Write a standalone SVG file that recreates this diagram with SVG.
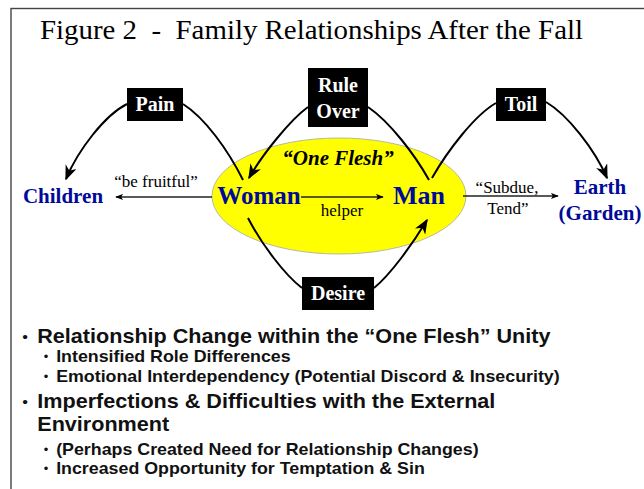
<svg xmlns="http://www.w3.org/2000/svg" width="644" height="489" viewBox="0 0 644 489">
  <style>
    .title { font-family: "Liberation Serif", "Times New Roman", serif; font-size: 27px; fill: #000; white-space: pre; }
    .lbl { font-family: "Liberation Serif", "Times New Roman", serif; font-size: 17px; fill: #000; text-anchor: middle; }
    .ent { font-family: "Liberation Serif", "Times New Roman", serif; font-weight: bold; fill: #000a99; text-anchor: middle; }
    .box { fill: #000; }
    .boxt { font-family: "Liberation Serif", "Times New Roman", serif; font-weight: bold; font-size: 20px; fill: #fff; text-anchor: middle; }
    .conn { fill: none; stroke: #000; stroke-width: 2; }
    .thin { fill: none; stroke: #222; stroke-width: 1.3; }
    .b1 { font-family: "Liberation Sans", Arial, sans-serif; font-weight: bold; font-size: 20px; fill: #111; }
    .b2 { font-family: "Liberation Sans", Arial, sans-serif; font-weight: bold; font-size: 16.5px; fill: #111; }
    .d1 { font-family: "Liberation Sans", Arial, sans-serif; font-size: 15px; fill: #111; }
    .d2 { font-family: "Liberation Sans", Arial, sans-serif; font-size: 12px; fill: #111; }
  </style>
  <defs>
    <marker id="ah" viewBox="0 0 10 8" refX="9" refY="4" markerWidth="8" markerHeight="7" orient="auto" markerUnits="userSpaceOnUse">
      <path d="M0,0 L10,4 L0,8 L2.5,4 z" fill="#000"/>
    </marker>
    <marker id="big" viewBox="0 0 10 8" refX="9" refY="4" markerWidth="15" markerHeight="12" orient="auto" markerUnits="userSpaceOnUse">
      <path d="M0,0 L10,4 L0,8 L3,4 z" fill="#000"/>
    </marker>
  </defs>

  <!-- frame -->
  <rect x="11" y="8.5" width="660" height="500" fill="none" stroke="#444" stroke-width="1.4"/>

  <text class="title" x="40" y="39" textLength="543" lengthAdjust="spacingAndGlyphs">Figure 2  -  Family Relationships After the Fall</text>

  <!-- the "one flesh" unity -->
  <g id="unity">
    <ellipse cx="339" cy="196" rx="127" ry="58" fill="#ffff00" stroke="#b8b8a0" stroke-width="1"/>
    <text x="338" y="165" text-anchor="middle" font-family="Liberation Serif, Times New Roman, serif" font-weight="bold" font-style="italic" font-size="21" fill="#000">“One Flesh”</text>
  </g>

  <g id="connectors">
    <path class="thin" d="M212,197 L116,197" marker-end="url(#ah)"/>
    <path class="thin" d="M301,197 L383,197" marker-end="url(#ah)"/>
    <path class="thin" d="M463,196 L558,196" marker-end="url(#ah)"/>
    <!-- Pain -->
    <path class="conn" d="M127,104 C105,115 78,150 66,179" marker-end="url(#big)"/>
    <path class="conn" d="M183,104 C205,118 228,150 243,180"/>
    <!-- Rule Over -->
    <path class="conn" d="M308,107 C290,120 262,155 249,178" marker-end="url(#big)"/>
    <path class="conn" d="M368,107 C390,122 415,155 429,180"/>
    <!-- Toil -->
    <path class="conn" d="M496,103 C475,115 448,150 432,178"/>
    <path class="conn" d="M546,102 C568,115 595,150 607,178" marker-end="url(#big)"/>
    <!-- Desire -->
    <path class="conn" d="M248,218 C262,245 285,275 302,288"/>
    <path class="conn" d="M374,288 C390,275 412,245 427,220" marker-end="url(#big)"/>
  </g>

  <text class="lbl" x="156" y="187">“be fruitful”</text>
  <text class="lbl" x="342" y="216">helper</text>
  <text class="lbl" x="507" y="193">“Subdue,</text>
  <text class="lbl" x="508" y="214">Tend”</text>

  <g id="children"><text class="ent" x="63" y="203" font-size="21">Children</text></g>
  <g id="woman"><text class="ent" x="259" y="204" font-size="25">Woman</text></g>
  <g id="man"><text class="ent" x="419" y="204" font-size="26">Man</text></g>
  <g id="earth">
    <text class="ent" x="600" y="194" font-size="21">Earth</text>
    <text class="ent" x="600" y="220" font-size="21">(Garden)</text>
  </g>

  <g id="pain"><rect class="box" x="127" y="88" width="56" height="33"/><text class="boxt" x="155" y="111">Pain</text></g>
  <g id="ruleover"><rect class="box" x="308" y="68" width="60" height="59"/><text class="boxt" x="338" y="92">Rule</text><text class="boxt" x="338" y="118">Over</text></g>
  <g id="toil"><rect class="box" x="496" y="88" width="50" height="33"/><text class="boxt" x="521" y="111">Toil</text></g>
  <g id="desire"><rect class="box" x="302" y="277" width="72" height="33"/><text class="boxt" x="338" y="300">Desire</text></g>

  <!-- bullet notes, slightly widened -->
  <g id="notes" transform="scale(1.08 1)">
    <text class="d1" x="20.5" y="342">•</text>
    <text class="b1" x="34.5" y="343">Relationship Change within the “One Flesh” Unity</text>
    <text class="d2" x="40.5" y="361">•</text>
    <text class="b2" x="52" y="362">Intensified Role Differences</text>
    <text class="d2" x="40.5" y="381">•</text>
    <text class="b2" x="52" y="382">Emotional Interdependency (Potential Discord &amp; Insecurity)</text>
    <text class="d1" x="20.5" y="407">•</text>
    <text class="b1" x="34.5" y="408">Imperfections &amp; Difficulties with the External</text>
    <text class="b1" x="34.5" y="431">Environment</text>
    <text class="d2" x="40.5" y="454">•</text>
    <text class="b2" x="52" y="455">(Perhaps Created Need for Relationship Changes)</text>
    <text class="d2" x="40.5" y="473">•</text>
    <text class="b2" x="52" y="474">Increased Opportunity for Temptation &amp; Sin</text>
  </g>
</svg>
